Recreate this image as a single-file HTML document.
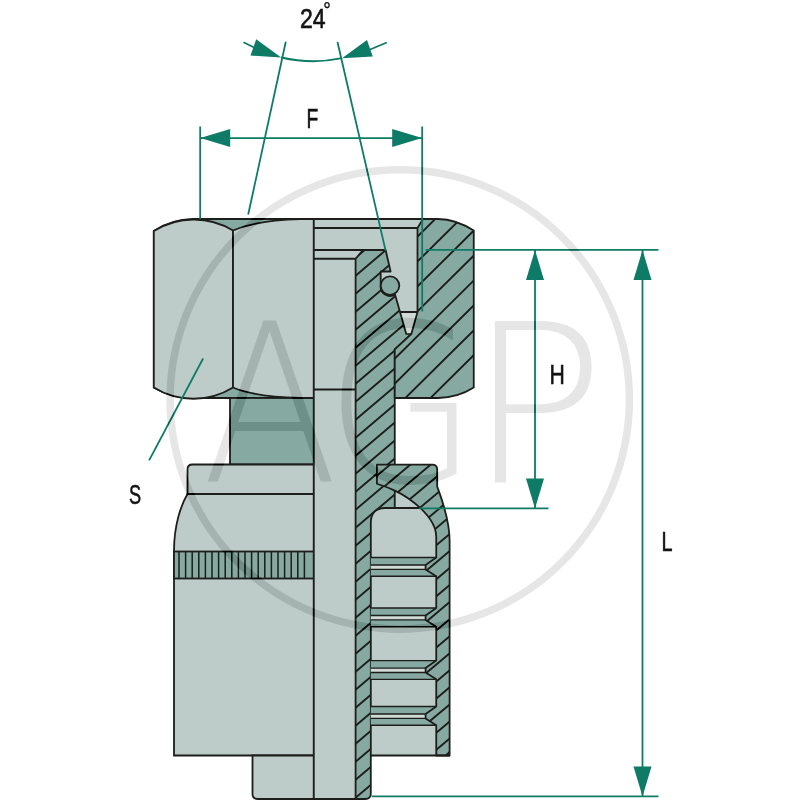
<!DOCTYPE html>
<html lang="en"><head><meta charset="utf-8"><title>Fitting drawing</title>
<style>
html,body{margin:0;padding:0;background:#fff}
svg{display:block;font-family:"Liberation Sans","DejaVu Sans",sans-serif}
</style></head>
<body>
<svg width="800" height="800" viewBox="0 0 800 800">
<rect width="800" height="800" fill="#fff"/>
<path d="M313.8,219.0 L193,219.0 A75.3,75.3 0 0 0 153.8,231.0 L153.8,387.5 A75.3,75.3 0 0 0 193,398.0 L313.8,398.0 Z" fill="#86aaa1" stroke="#1d1d1b" stroke-width="1.8" stroke-linejoin="round"/>
<rect x="230" y="398.0" width="83.80000000000001" height="66.5" fill="#86aaa1" stroke="#1d1d1b" stroke-width="1.8"/>
<path d="M153.8,231.0 A75.3,75.3 0 0 1 233.0,230.5 L233.0,387.5 A75.3,75.3 0 0 1 153.8,387.5 Z" fill="#bdccc8" stroke="#1d1d1b" stroke-width="1.8" stroke-linejoin="round"/>
<path d="M233.0,230.5 C246,225 270,219.8 300,219.2 L313.8,219.0 L313.8,398.0 L300,397.8 C270,397.2 246,393 233.0,387.5 Z" fill="#bdccc8" stroke="#1d1d1b" stroke-width="1.8" stroke-linejoin="round"/>
<path d="M313.8,464.5 L192.5,464.5 Q187.5,464.5 187.5,469.5 L187.5,494 L313.8,494 Z" fill="#bdccc8" stroke="#1d1d1b" stroke-width="1.8"/>
<path d="M187.5,494 C181,505 174,525 174,551 L174,755.5 L313.8,755.5 L313.8,494 Z" fill="#bdccc8" stroke="#1d1d1b" stroke-width="1.8"/>
<rect x="174" y="551.5" width="139.8" height="27" fill="#86aaa1" stroke="#1d1d1b" stroke-width="1.8"/>
<path d="M179.00,551.5V578.5M185.60,551.5V578.5M192.20,551.5V578.5M198.80,551.5V578.5M205.40,551.5V578.5M212.00,551.5V578.5M218.60,551.5V578.5M225.20,551.5V578.5M231.80,551.5V578.5M238.40,551.5V578.5M245.00,551.5V578.5M251.60,551.5V578.5M258.20,551.5V578.5M264.80,551.5V578.5M271.40,551.5V578.5M278.00,551.5V578.5M284.60,551.5V578.5M291.20,551.5V578.5M297.80,551.5V578.5M304.40,551.5V578.5" stroke="#1d1d1b" stroke-width="1.5" fill="none"/>
<path d="M252.5,755.5 L252.5,794 Q252.5,799 258,799 L313.8,799 L313.8,755.5 Z" fill="#bdccc8" stroke="#1d1d1b" stroke-width="1.8"/>
<path d="M313.8,219.0 L423,219.0 L417.5,228 L417.5,312 L400,312 L395,294 L355.6,294 L355.6,796 Q355.6,799 352.6,799 L313.8,799 Z" fill="#bdccc8" stroke="none"/>
<path d="M400,312 L417.5,312 L411.25,334 L406.25,334 Z" fill="#cfdad6" stroke="none"/>
<path d="M394.75,490.6 C408,496.7 436.25,516 436.25,537 L436.25,755.5 L370.8,755.5 L370.8,523 Q370.8,508 385,508 L394.75,508 Z" fill="#bdccc8" stroke="none"/>
<defs>
<clipPath id="cb"><path d="M355.6,258.75 L363,250 L385.6,250 L390.6,271.5 L380.7,271.5 L380.7,285.6 A9.3,9.3 0 0 0 395,294.4 L400,312 L406.25,333.9 L411.25,334.2 L394.75,349.4 L394.75,508 L385,508 Q370.8,508 370.8,523 L370.8,793.5 Q370.8,799 365.3,799 L355.6,799 Z"/></clipPath>
<clipPath id="cn"><path d="M423,219.0 L438,219.0 C448,219.2 462,223 473.75,230.6 L473.75,387.5 C462,395 448,397.8 438,398.0 L394.75,398.0 L394.75,349.4 L411.25,334.2 L417.5,312 L417.5,228 Z"/></clipPath>
<clipPath id="cf"><path d="M376.9,464.7 L432.2,464.7 Q437.2,464.7 437.2,469.7 L437.2,486.5 C439.5,493 449.6,518 449.6,541 L449.6,755.5 L436.25,755.5 L436.25,725.25 L425.6,718.4 L425.6,714.0 L436.25,706.5 L436.25,679.35 L425.6,672.5 L425.6,668.1 L436.25,660.6 L436.25,626.75 L425.6,619.9 L425.6,615.5 L436.25,608.0 L436.25,576.25 L425.6,569.4 L425.6,565.0 L436.25,557.5 L436.25,537 C436.25,516 408,496.7 394.75,490.6 C389,487.9 383,485.6 376.9,483.75 Z"/></clipPath>
<clipPath id="ctail"><rect x="340" y="516" width="60" height="290"/></clipPath>
<clipPath id="cup"><rect x="340" y="200" width="100" height="316"/></clipPath>
</defs>
<path d="M355.6,258.75 L363,250 L385.6,250 L390.6,271.5 L380.7,271.5 L380.7,285.6 A9.3,9.3 0 0 0 395,294.4 L400,312 L406.25,333.9 L411.25,334.2 L394.75,349.4 L394.75,508 L385,508 Q370.8,508 370.8,523 L370.8,793.5 Q370.8,799 365.3,799 L355.6,799 Z" fill="#86aaa1" stroke="none"/>
<path clip-path="url(#cb)" d="M353.60,241.40L422.00,183.39M353.60,259.40L422.00,201.39M353.60,277.40L422.00,219.39M353.60,295.40L422.00,237.39M353.60,313.40L422.00,255.39M353.60,331.40L422.00,273.39M353.60,349.40L422.00,291.39M353.60,367.40L422.00,309.39M353.60,385.40L422.00,327.39M353.60,403.40L422.00,345.39M353.60,421.40L422.00,363.39M353.60,439.40L422.00,381.39M353.60,457.40L422.00,399.39M353.60,475.40L422.00,417.39M353.60,493.40L422.00,435.39M353.60,511.40L422.00,453.39M353.60,529.40L422.00,471.39M353.60,547.40L422.00,489.39M353.60,565.40L422.00,507.39M353.60,583.40L422.00,525.39M353.60,601.40L422.00,543.39M353.60,619.40L422.00,561.39M353.60,637.40L422.00,579.39M353.60,655.40L422.00,597.39M353.60,673.40L422.00,615.39M353.60,691.40L422.00,633.39M353.60,709.40L422.00,651.39M353.60,727.40L422.00,669.39M353.60,745.40L422.00,687.39M353.60,763.40L422.00,705.39M353.60,781.40L422.00,723.39M353.60,799.40L422.00,741.39M353.60,817.40L422.00,759.39M353.60,835.40L422.00,777.39M353.60,853.40L422.00,795.39" stroke="#1d1d1b" stroke-width="1.9" fill="none"/>
<path d="M355.6,258.75 L363,250 L385.6,250 L390.6,271.5 L380.7,271.5 L380.7,285.6 A9.3,9.3 0 0 0 395,294.4 L400,312 L406.25,333.9 L411.25,334.2 L394.75,349.4 L394.75,508 L385,508 Q370.8,508 370.8,523 L370.8,793.5 Q370.8,799 365.3,799 L355.6,799 Z" fill="none" stroke="#1d1d1b" stroke-width="1.8" stroke-linejoin="round"/>
<path d="M423,219.0 L438,219.0 C448,219.2 462,223 473.75,230.6 L473.75,387.5 C462,395 448,397.8 438,398.0 L394.75,398.0 L394.75,349.4 L411.25,334.2 L417.5,312 L417.5,228 Z" fill="#86aaa1" stroke="none"/>
<path clip-path="url(#cn)" d="M392.75,236.16L475.75,154.02M392.75,261.06L475.75,178.92M392.75,285.96L475.75,203.82M392.75,310.86L475.75,228.72M392.75,335.76L475.75,253.62M392.75,360.66L475.75,278.52M392.75,385.56L475.75,303.42M392.75,410.46L475.75,328.32M392.75,435.36L475.75,353.22" stroke="#1d1d1b" stroke-width="1.9" fill="none"/>
<path d="M423,219.0 L438,219.0 C448,219.2 462,223 473.75,230.6 L473.75,387.5 C462,395 448,397.8 438,398.0 L394.75,398.0 L394.75,349.4 L411.25,334.2 L417.5,312 L417.5,228 Z" fill="none" stroke="#1d1d1b" stroke-width="1.8" stroke-linejoin="round"/>
<rect x="370.8" y="557.5" width="65.44999999999999" height="18.75" fill="#86aaa1"/>
<rect x="370.8" y="565.0" width="54.80000000000001" height="4.4" fill="#cfdad6"/>
<path d="M370.8,557.5H436.25 M370.8,565.0H425.6 M370.8,569.4H425.6 M370.8,576.25H436.25" stroke="#1d1d1b" stroke-width="1.35" fill="none"/>
<rect x="370.8" y="608.0" width="65.44999999999999" height="18.75" fill="#86aaa1"/>
<rect x="370.8" y="615.5" width="54.80000000000001" height="4.4" fill="#cfdad6"/>
<path d="M370.8,608.0H436.25 M370.8,615.5H425.6 M370.8,619.9H425.6 M370.8,626.75H436.25" stroke="#1d1d1b" stroke-width="1.35" fill="none"/>
<rect x="370.8" y="660.6" width="65.44999999999999" height="18.75" fill="#86aaa1"/>
<rect x="370.8" y="668.1" width="54.80000000000001" height="4.4" fill="#cfdad6"/>
<path d="M370.8,660.6H436.25 M370.8,668.1H425.6 M370.8,672.5H425.6 M370.8,679.35H436.25" stroke="#1d1d1b" stroke-width="1.35" fill="none"/>
<rect x="370.8" y="706.5" width="65.44999999999999" height="18.75" fill="#86aaa1"/>
<rect x="370.8" y="714.0" width="54.80000000000001" height="4.4" fill="#cfdad6"/>
<path d="M370.8,706.5H436.25 M370.8,714.0H425.6 M370.8,718.4H425.6 M370.8,725.25H436.25" stroke="#1d1d1b" stroke-width="1.35" fill="none"/>
<path d="M376.9,464.7 L432.2,464.7 Q437.2,464.7 437.2,469.7 L437.2,486.5 C439.5,493 449.6,518 449.6,541 L449.6,755.5 L436.25,755.5 L436.25,725.25 L425.6,718.4 L425.6,714.0 L436.25,706.5 L436.25,679.35 L425.6,672.5 L425.6,668.1 L436.25,660.6 L436.25,626.75 L425.6,619.9 L425.6,615.5 L436.25,608.0 L436.25,576.25 L425.6,569.4 L425.6,565.0 L436.25,557.5 L436.25,537 C436.25,516 408,496.7 394.75,490.6 C389,487.9 383,485.6 376.9,483.75 Z" fill="#86aaa1" stroke="none"/>
<path clip-path="url(#cf)" d="M368.00,483.12L451.60,412.97M368.00,500.17L451.60,430.02M368.00,517.22L451.60,447.07M368.00,534.27L451.60,464.12M368.00,551.32L451.60,481.17M368.00,568.37L451.60,498.22M368.00,585.42L451.60,515.27M368.00,602.47L451.60,532.32M368.00,619.52L451.60,549.37M368.00,636.57L451.60,566.42M368.00,653.62L451.60,583.47M368.00,670.67L451.60,600.52M368.00,687.72L451.60,617.57M368.00,704.77L451.60,634.62M368.00,721.82L451.60,651.67M368.00,738.87L451.60,668.72M368.00,755.92L451.60,685.77M368.00,772.97L451.60,702.82M368.00,790.02L451.60,719.87M368.00,807.07L451.60,736.92M368.00,824.12L451.60,753.97" stroke="#1d1d1b" stroke-width="1.9" fill="none"/>
<path d="M376.9,464.7 L432.2,464.7 Q437.2,464.7 437.2,469.7 L437.2,486.5 C439.5,493 449.6,518 449.6,541 L449.6,755.5 L436.25,755.5 L436.25,725.25 L425.6,718.4 L425.6,714.0 L436.25,706.5 L436.25,679.35 L425.6,672.5 L425.6,668.1 L436.25,660.6 L436.25,626.75 L425.6,619.9 L425.6,615.5 L436.25,608.0 L436.25,576.25 L425.6,569.4 L425.6,565.0 L436.25,557.5 L436.25,537 C436.25,516 408,496.7 394.75,490.6 C389,487.9 383,485.6 376.9,483.75 Z" fill="none" stroke="#1d1d1b" stroke-width="1.8" stroke-linejoin="round"/>
<path d="M370.8,755.5H449.6 M445.8,755.5L449.6,752" stroke="#1d1d1b" stroke-width="1.8" fill="none"/>
<circle cx="390" cy="285.6" r="9.3" fill="#86aaa1" stroke="#1d1d1b" stroke-width="1.8"/>
<path d="M313.8,219.0V799 M313.8,228H417.5 M313.8,250H363 M313.8,258.75H355.6 M313.8,389.5H355.6 M400,312H417.5 M394.75,508H419.5 M313.8,219.0H423 M313.8,799H355.6" stroke="#1d1d1b" stroke-width="1.8" fill="none"/>
<path d="M200.2,126.4V219 M422.2,126.4V311.5 M200.2,138.1H422.2" stroke="#0e7b66" stroke-width="1.8" fill="none"/>
<polygon points="200.20,138.10 230.20,147.10 230.20,129.10" fill="#0e7b66"/>
<polygon points="422.20,138.10 392.20,129.10 392.20,147.10" fill="#0e7b66"/>
<path d="M285.8,41.8L248.2,214.5 M337.5,42L385.6,250.6" stroke="#0e7b66" stroke-width="1.8" fill="none"/>
<path d="M281.2,57.5Q312,64.6 342,58.2 M243.5,42.2L256,48.5 M386.8,42.5L369,50" stroke="#0e7b66" stroke-width="1.8" fill="none"/>
<polygon points="281.2,57.6 256.2,39.2 250.5,55.6" fill="#0e7b66"/>
<polygon points="342,58.3 367,40 372.8,56.5" fill="#0e7b66"/>
<path d="M425.5,249.8H658.5 M419.5,508.4H548.5 M535,250V508.4" stroke="#0e7b66" stroke-width="1.8" fill="none"/>
<polygon points="535.00,250.00 526.00,280.00 544.00,280.00" fill="#0e7b66"/>
<polygon points="535.00,508.40 544.00,478.40 526.00,478.40" fill="#0e7b66"/>
<path d="M371.6,796.4H658.5 M642.5,250V796.4" stroke="#0e7b66" stroke-width="1.8" fill="none"/>
<polygon points="642.50,250.00 633.50,280.00 651.50,280.00" fill="#0e7b66"/>
<polygon points="642.50,796.40 651.50,766.40 633.50,766.40" fill="#0e7b66"/>
<path d="M203.1,358.5L149.1,460.4" stroke="#0e7b66" stroke-width="1.8" fill="none"/>
<g opacity="0.99">
<text transform="translate(300.00,28.30) scale(0.840,1)" font-size="27.5" fill="#111" stroke="#111" stroke-width="0.6">24</text>
<text transform="translate(306.60,127.50) scale(0.700,1)" font-size="27.5" fill="#111" stroke="#111" stroke-width="0.6">F</text>
<text transform="translate(549.40,384.00) scale(0.770,1)" font-size="27.5" fill="#111" stroke="#111" stroke-width="0.6">H</text>
<text transform="translate(661.60,551.00) scale(0.720,1)" font-size="27.5" fill="#111" stroke="#111" stroke-width="0.6">L</text>
<text transform="translate(128.90,504.20) scale(0.660,1)" font-size="27.5" fill="#111" stroke="#111" stroke-width="0.6">S</text>
<text transform="translate(323.2,17.0) scale(0.9,1)" font-size="21" fill="#111" stroke="#111" stroke-width="0.4">°</text>
</g>
<g style="mix-blend-mode:difference">
<circle cx="399.75" cy="399.5" r="229.65" fill="none" stroke="#191919" stroke-width="7.5"/>
<g font-family="'DejaVu Sans Light','DejaVu Sans','Liberation Sans',sans-serif" font-weight="200" font-size="221" fill="#191919">
<text transform="translate(201.7,481.5) scale(0.904,1)">A</text>
<text transform="translate(325.0,481.5) scale(0.89,1)">G</text>
<text transform="translate(466.8,481.5) scale(1.043,1)">P</text>
</g>
</g>
</svg>
</body></html>
